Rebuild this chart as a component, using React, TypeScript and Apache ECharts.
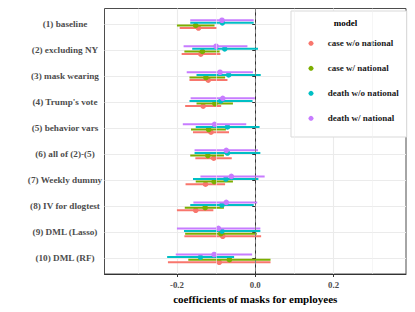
import React, { useEffect, useRef } from "react";
import * as echarts from "echarts";

const categories = [
  "(1) baseline",
  "(2) excluding NY",
  "(3) mask wearing",
  "(4) Trump's vote",
  "(5) behavior vars",
  "(6) all of (2)-(5)",
  "(7) Weekly dummy",
  "(8) IV for dlogtest",
  "(9) DML (Lasso)",
  "(10) DML (RF)",
];

const seriesNames = ["case w/o national", "case w/ national", "death w/o national", "death w/ national"];
const seriesColors = ["#F8766D", "#7CAE00", "#00BFC4", "#C77CFF"];

const caseWoPt = [-0.145, -0.139, -0.120, -0.133, -0.113, -0.106, -0.127, -0.152, -0.083, -0.092];
const caseWoLo = [-0.193, -0.188, -0.168, -0.179, -0.159, -0.153, -0.178, -0.200, -0.181, -0.223];
const caseWoHi = [-0.098, -0.089, -0.071, -0.087, -0.067, -0.060, -0.077, -0.107, 0.015, 0.039];

const caseWPt = [-0.152, -0.135, -0.126, -0.103, -0.119, -0.121, -0.105, -0.128, -0.088, -0.066];
const caseWLo = [-0.200, -0.181, -0.168, -0.150, -0.164, -0.166, -0.152, -0.180, -0.179, -0.171];
const caseWHi = [-0.104, -0.091, -0.077, -0.057, -0.075, -0.080, -0.057, -0.080, 0.004, 0.039];

const deathWoPt = [-0.084, -0.078, -0.068, -0.088, -0.071, -0.071, -0.075, -0.085, -0.085, -0.140];
const deathWoLo = [-0.166, -0.161, -0.150, -0.168, -0.152, -0.155, -0.159, -0.166, -0.182, -0.225];
const deathWoHi = [-0.004, 0.007, 0.014, -0.007, 0.011, 0.013, 0.008, -0.004, 0.013, -0.054];

const deathWPt = [-0.085, -0.100, -0.090, -0.083, -0.104, -0.074, -0.061, -0.074, -0.094, -0.105];
const deathWLo = [-0.166, -0.183, -0.175, -0.165, -0.185, -0.155, -0.140, -0.158, -0.200, -0.203];
const deathWHi = [-0.004, -0.020, -0.006, -0.001, -0.023, 0.007, 0.024, 0.005, 0.013, -0.008];

const seriesPt = [caseWoPt, caseWPt, deathWoPt, deathWPt];
const seriesLo = [caseWoLo, caseWLo, deathWoLo, deathWLo];
const seriesHi = [caseWoHi, caseWHi, deathWoHi, deathWHi];
const dodgeOffsets = [0.15, 0.05, -0.05, -0.15];

const xMajorTicks = [-0.2, 0, 0.2];
const xMinorTicks = [-0.3, -0.1, 0.1, 0.3];
const refLine = 0;
const xTitle = "coefficients of masks for employees";
const legendTitle = "model";

const FONT = "Liberation Serif";

export default function App() {
  const ref = useRef<HTMLDivElement>(null);
  useEffect(() => {
    if (!ref.current) return;
    const chart = echarts.init(ref.current, null, { renderer: "svg" });
    const catTicks = categories.map((_, i) => i + 1);
    const series: any[] = seriesNames.map((name, s) => ({
      type: "custom",
      name,
      itemStyle: { color: seriesColors[s] },
      encode: { x: [0, 1, 2], y: 3 },
      data: categories.map((_, i) => [seriesLo[s][i], seriesHi[s][i], seriesPt[s][i], i + 1]),
      renderItem: (params: any, api: any) => {
        const y = api.value(3) + dodgeOffsets[s];
        const p1 = api.coord([api.value(0), y]);
        const p2 = api.coord([api.value(1), y]);
        const p = api.coord([api.value(2), y]);
        return {
          type: "group",
          children: [
            {
              type: "line",
              shape: { x1: p1[0], y1: p1[1], x2: p2[0], y2: p2[1] },
              style: { stroke: seriesColors[s], lineWidth: 2 },
            },
            {
              type: "circle",
              shape: { cx: p[0], cy: p[1], r: 2.8 },
              style: { fill: seriesColors[s] },
            },
          ],
        };
      },
      z: 3,
    }));
    series.push({
      type: "line",
      name: "minor",
      data: [],
      silent: true,
      markLine: {
        silent: true,
        symbol: "none",
        label: { show: false },
        lineStyle: { color: "#f0f0f0", type: "solid", width: 0.6 },
        data: xMinorTicks.map((v) => ({ xAxis: v })),
      },
      z: 1,
    });
    series.push({
      type: "line",
      name: "ref",
      data: [],
      silent: true,
      markLine: {
        silent: true,
        symbol: "none",
        label: { show: false },
        lineStyle: { color: "#7f7f7f", type: [4, 3], width: 1 },
        data: [{ xAxis: refLine }],
      },
      z: 2,
    });
    chart.setOption({
      animation: false,
      backgroundColor: "#ffffff",
      grid: {
        left: 104.5,
        right: 9,
        top: 8.5,
        bottom: 38,
        show: true,
        borderColor: "#4d4d4d",
        borderWidth: 1,
        backgroundColor: "#ffffff",
      },
      xAxis: {
        type: "value",
        min: -0.385,
        max: 0.385,
        position: "bottom",
        axisLine: { show: true, onZero: false, lineStyle: { color: "#333", width: 1 } },
        axisTick: { show: true, length: 3, customValues: xMajorTicks, lineStyle: { color: "#333" } },
        axisLabel: {
          show: true,
          customValues: xMajorTicks,
          formatter: (v: any) => Number(v).toFixed(1),
          fontFamily: FONT,
          fontWeight: "bold",
          fontSize: 8.8,
          color: "#4d4d4d",
          margin: 6,
        },
        splitLine: { show: true, lineStyle: { color: "#ebebeb", width: 1.1 } },
        name: xTitle,
        nameLocation: "middle",
        nameGap: 15.5,
        nameTextStyle: { fontFamily: FONT, fontWeight: "bold", fontSize: 11, color: "#000" },
      },
      yAxis: {
        type: "value",
        min: 0.4,
        max: 10.6,
        inverse: true,
        axisLine: { show: true, lineStyle: { color: "#333", width: 1 } },
        axisTick: { show: true, length: 3, customValues: catTicks, lineStyle: { color: "#333" } },
        axisLabel: {
          customValues: catTicks,
          formatter: (v: number) => categories[Math.round(v) - 1] ?? "",
          align: "center",
          margin: 39.5,
          fontFamily: FONT,
          fontWeight: "bold",
          fontSize: 9.2,
          color: "#4d4d4d",
        },
        splitLine: { show: true, lineStyle: { color: "#ebebeb", width: 1.1 } },
      },
      legend: {
        data: seriesNames,
        orient: "vertical",
        left: 291,
        top: 11,
        icon: "circle",
        itemWidth: 5,
        itemHeight: 5,
        itemGap: 15,
        padding: [27.3, 8, 13.7, 17.5],
        backgroundColor: "#ffffff",
        borderColor: "#d9d9d9",
        borderWidth: 1,
        textStyle: {
          fontFamily: FONT,
          fontWeight: "bold",
          fontSize: 9,
          lineHeight: 10,
          color: "#1a1a1a",
          padding: [0, 0, 0, 9.2],
        },
      },
      graphic: [
        {
          type: "text",
          x: 345.5,
          y: 23,
          z: 100,
          style: {
            text: legendTitle,
            align: "center",
            verticalAlign: "middle",
            fontFamily: FONT,
            fontWeight: "bold",
            fontSize: 9,
            fill: "#000",
          },
        },
      ],
      series,
    });
    return () => chart.dispose();
  }, []);
  return <div ref={ref} style={{ width: 415, height: 312, position: "absolute", left: 0, top: 0 }} />;
}
